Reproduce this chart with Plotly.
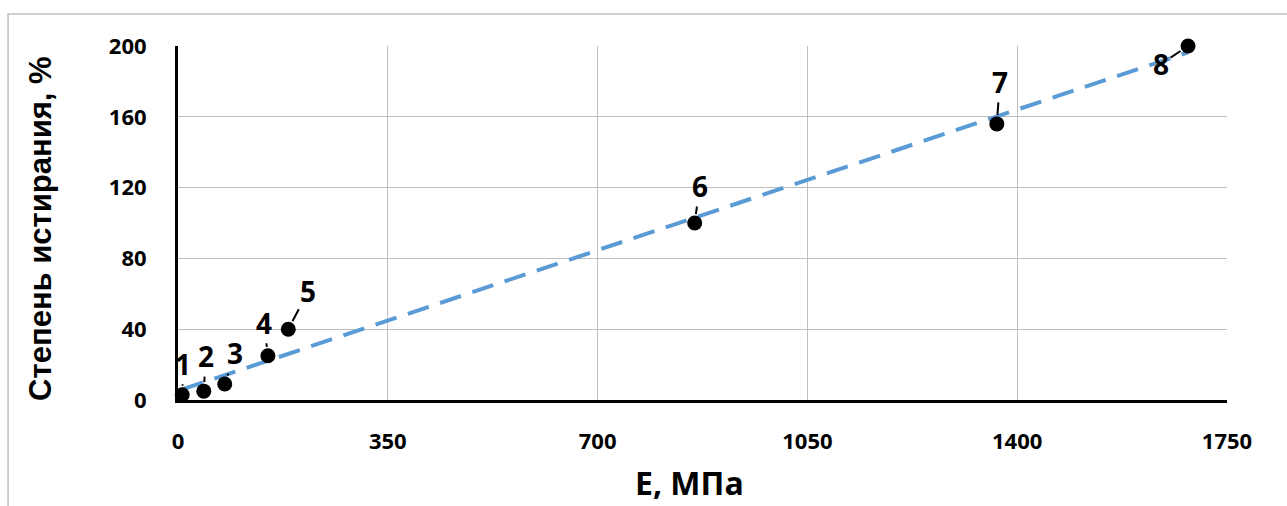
import numpy as np
import plotly.graph_objects as go

# Modulus of elasticity E (MPa) vs. degree of abrasion (%)
sample_ids = ["1", "2", "3", "4", "5", "6", "7", "8"]
e_mpa = [7, 43, 78, 150, 184, 862, 1366, 1685]
abrasion_pct = [3, 5, 9, 25, 40, 100, 156, 200]

# label offsets (px) for the numbered data labels with leader lines
label_dx = [1, 2, 10, -4, 20, 5, 3, -27]
label_dy = [-31, -35, -31, -33, -38, -37, -42, 18]

x_ticks = [0, 350, 700, 1050, 1400, 1750]
y_ticks = [0, 40, 80, 120, 160, 200]

# linear trend line over the data range
slope, intercept = np.polyfit(e_mpa, abrasion_pct, 1)
trend_x = [min(e_mpa), max(e_mpa)]
trend_y = [slope * v + intercept for v in trend_x]

fig = go.Figure()
fig.add_trace(go.Scatter(
    x=trend_x, y=trend_y, mode="lines",
    line=dict(color="#5b9bd5", width=4, dash="22px,12px"),
    hoverinfo="skip", showlegend=False, cliponaxis=False,
))
fig.add_trace(go.Scatter(
    x=e_mpa, y=abrasion_pct, mode="markers",
    marker=dict(color="black", size=15),
    showlegend=False, cliponaxis=False,
))

annotations = []
for sid, xv, yv, dx, dy in zip(sample_ids, e_mpa, abrasion_pct, label_dx, label_dy):
    annotations.append(dict(
        x=xv, y=yv, xref="x", yref="y", text=sid,
        showarrow=True, arrowhead=0, arrowwidth=2, arrowcolor="black",
        ax=dx, ay=dy, standoff=9,
        font=dict(family="Open Sans", size=28, color="black", weight="bold"),
    ))

annotations.append(dict(
    text="Степень истирания, %", xref="paper", yref="paper",
    x=-0.131, y=0.485, textangle=-90, showarrow=False,
    xanchor="center", yanchor="middle",
    font=dict(family="Liberation Sans", size=31, color="black", weight="bold"),
))
annotations.append(dict(
    text="E, МПа", xref="paper", yref="paper",
    x=0.488, y=-0.233, showarrow=False,
    xanchor="center", yanchor="middle",
    font=dict(family="Open Sans", size=32, color="black", weight="bold"),
))

fig.update_layout(
    width=1287, height=506,
    margin=dict(l=178, r=60, t=46, b=106),
    paper_bgcolor="white", plot_bgcolor="white",
    annotations=annotations,
    shapes=[dict(
        type="rect", xref="paper", yref="paper",
        x0=-0.162, x1=1.3, y0=-0.4, y1=1.0904,
        line=dict(color="#bfbfbf", width=1.5), layer="below",
    )],
    xaxis=dict(
        range=[0, 1750], tickvals=x_ticks, ticktext=[str(v) for v in x_ticks],
        showgrid=True, gridcolor="#bfbfbf", gridwidth=1,
        showline=True, linecolor="black", linewidth=3, mirror=False,
        zeroline=False, ticks="", ticklabelstandoff=20,
        tickfont=dict(family="Open Sans", size=22, color="black", weight="bold"),
    ),
    yaxis=dict(
        range=[0, 200], tickvals=y_ticks, ticktext=[str(v) for v in y_ticks],
        showgrid=True, gridcolor="#bfbfbf", gridwidth=1,
        showline=True, linecolor="black", linewidth=3,
        zeroline=False, ticks="", ticklabelstandoff=24,
        tickfont=dict(family="Open Sans", size=22, color="black", weight="bold"),
    ),
)

fig.write_html("out.html")
